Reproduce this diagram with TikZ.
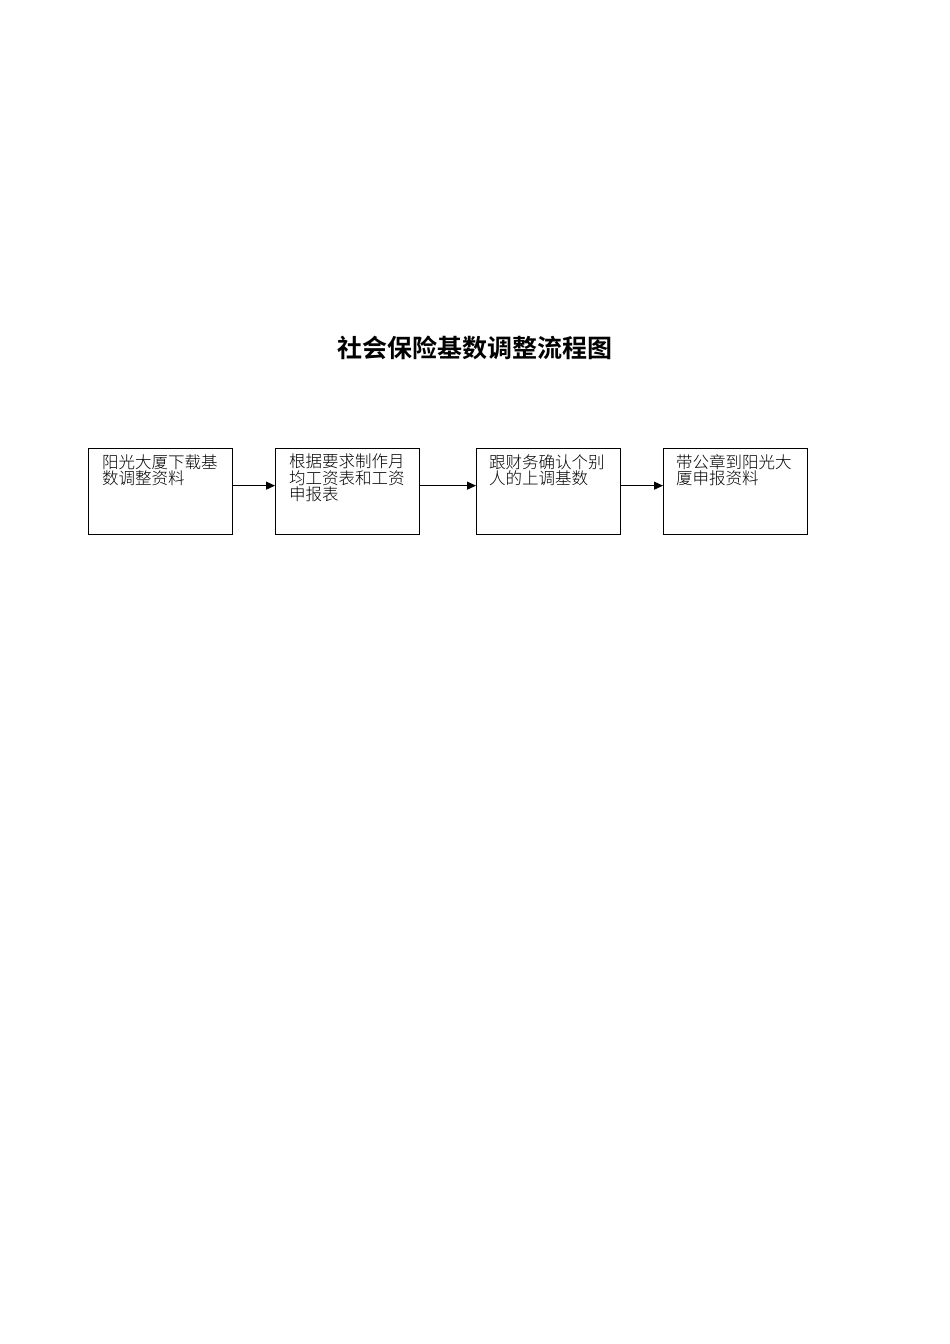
\documentclass[tikz,border=0pt]{standalone}
\usepackage{fontspec}
\usetikzlibrary{arrows.meta}
\newfontfamily\cjkbody{Noto Sans CJK SC Light}
\newfontfamily\cjktitle{Noto Sans CJK SC Bold}
\begin{document}
\begin{tikzpicture}[x=1pt,y=-1pt,
  stepbox/.style={draw=black,line width=1.3pt,minimum width=144pt,minimum height=86pt,inner sep=0pt,anchor=north west},
  steptext/.style={anchor=north west,inner sep=0pt,align=left,font=\cjkbody\fontsize{16.5pt}{16.5pt}\selectfont},
  flow/.style={line width=1.1pt,-{Triangle[length=9pt,width=8pt]}}]
\useasboundingbox[fill=white] (0,0) rectangle (950,1344);
\node[font=\cjktitle\fontsize{25pt}{25pt}\selectfont] (title) at (474.5,348) {社会保险基数调整流程图};
\node[stepbox] (b1) at (88,448) {};
\node[stepbox] (b2) at (275,448) {};
\node[stepbox] (b3) at (476,448) {};
\node[stepbox] (b4) at (663,448) {};
\node[steptext] (t1) at ([xshift=14pt,yshift=-6pt]b1.north west) {阳光大厦下载基\\数调整资料};
\node[steptext] (t2) at ([xshift=14pt,yshift=-6pt]b2.north west) {根据要求制作月\\均工资表和工资\\申报表};
\node[steptext] (t3) at ([xshift=13pt,yshift=-6pt]b3.north west) {跟财务确认个别\\人的上调基数};
\node[steptext] (t4) at ([xshift=13pt,yshift=-6pt]b4.north west) {带公章到阳光大\\厦申报资料};
\draw[flow] ([yshift=6pt]b1.east) -- ([yshift=6pt]b2.west);
\draw[flow] ([yshift=6pt]b2.east) -- ([yshift=6pt]b3.west);
\draw[flow] ([yshift=6pt]b3.east) -- ([yshift=6pt]b4.west);
\end{tikzpicture}
\end{document}
